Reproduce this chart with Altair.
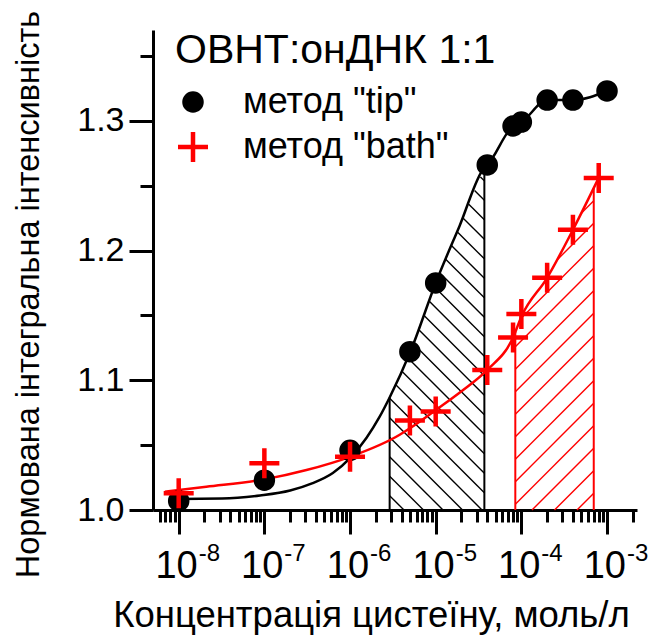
import altair as alt
import numpy as np
import pandas as pd

FONT = "Liberation Sans"

# ---- measured points ----------------------------------------------------
TIP = 'метод "tip"'
BATH = 'метод "bath"'

tip_conc = [1e-8, 1e-7, 1e-6, 5e-6, 1e-5, 4e-5, 8e-5, 1e-4, 2e-4, 4e-4, 1e-3]
tip_val = [1.007, 1.023, 1.046, 1.122, 1.175, 1.266, 1.296, 1.299, 1.316, 1.316, 1.323]

bath_conc = [1e-8, 1e-7, 1e-6, 5e-6, 1e-5, 4e-5, 8e-5, 1e-4, 2e-4, 4e-4, 8e-4]
bath_val = [1.013, 1.036, 1.041, 1.069, 1.076, 1.108, 1.133, 1.151, 1.179, 1.216, 1.256]

# ---- fitted curves ------------------------------------------------------
tip_fit_conc = [1.0e-8, 3.2e-8, 8.9e-8, 2.0e-7, 3.6e-7, 6.3e-7, 1.0e-6, 1.56e-6,
                2.21e-6, 2.9e-6, 5.1e-6, 1.0e-5, 1.9e-5, 3.7e-5, 4.0e-5, 8.0e-5,
                1.0e-4, 2.0e-4, 4.0e-4, 1.0e-3]
tip_fit_val = [1.0085, 1.0088, 1.0112, 1.0150, 1.0205, 1.0285, 1.040, 1.0557,
               1.0717, 1.0867, 1.1225, 1.175, 1.219, 1.264, 1.266, 1.296,
               1.299, 1.316, 1.316, 1.323]

bath_fit_conc = [6.9e-9, 2.1e-8, 1.0e-7, 3.1e-7, 1.0e-6, 3.8e-6, 5.0e-6, 1.0e-5,
                 2.0e-5, 4.0e-5, 8.0e-5, 1.0e-4, 2.0e-4, 4.0e-4, 8.0e-4]
bath_fit_val = [1.0141, 1.0179, 1.0236, 1.0308, 1.041, 1.058, 1.063, 1.077,
                1.0915, 1.108, 1.133, 1.149, 1.179, 1.216, 1.256]

# hatched concentration ranges under each curve
tip_band = [2.9e-6, 3.7e-5]
bath_band = [8.5e-5, 7.0e-4]

# ---- axes ---------------------------------------------------------------
x_decades = [-8, -7, -6, -5, -4, -3]
y_ticks = [1.0, 1.05, 1.1, 1.15, 1.2, 1.25, 1.3, 1.35]

W, H = 484, 480
U0, U1 = -8.30, -2.65          # log10 limits of the x axis
Y0, Y1 = 1.0, 1.37
KX = W / (U1 - U0)             # pixels per decade
KY = H / (Y1 - Y0)             # pixels per intensity unit

x_ticks = [m * 10.0 ** k for k in range(-9, -2) for m in range(1, 10)
           if 10 ** U0 <= m * 10.0 ** k <= 10 ** U1]

xscale = alt.Scale(type="log", domain=[10 ** U0, 10 ** U1], nice=False)
yscale = alt.Scale(domain=[Y0, Y1], nice=False, zero=False)

x_axis = alt.Axis(
    values=x_ticks, labels=False, grid=False,
    tickSize={"condition": {"test": "abs(log(datum.value)/LN10 - round(log(datum.value)/LN10)) < 0.01",
                            "value": 24}, "value": 12},
    title="Концентрація цистеїну, моль/л", titleX=218, titleY=105,
    titleAlign="center", titleBaseline="middle", titleFontSize=36.5,
)
y_axis = alt.Axis(
    values=y_ticks, grid=False, labelPadding=5,
    labelExpr="abs(datum.value*10 - round(datum.value*10)) < 0.01 ? format(datum.value, '.1f') : ''",
    tickSize={"condition": {"test": "abs(datum.value*10 - round(datum.value*10)) < 0.01",
                            "value": 24}, "value": 13},
    title="Нормована інтегральна інтенсивність", titleX=-125, titleY=264,
    titleAlign="center", titleBaseline="middle", titleAngle=-90, titleFontSize=32.5,
)


def hatch_segments(curve_c, curve_v, band, step, slope, phase):
    """Diagonal hatch strokes clipped to the region under a curve."""
    sx_c = (np.log10(curve_c) - U0) * KX
    sy_c = (np.asarray(curve_v) - Y0) * KY
    lo, hi = [(np.log10(b) - U0) * KX for b in band]
    xs = np.linspace(lo, hi, 6000)
    top = np.interp(xs, sx_c, sy_c)
    rows = []
    for c in np.arange(phase - 1500, 1500, step):
        ys = slope * xs + c
        inside = np.where((ys >= 0) & (ys <= top))[0]
        if inside.size < 2:
            continue
        i0, i1 = inside[0], inside[-1]
        rows.append({
            "c1": 10 ** (xs[i0] / KX + U0), "v1": ys[i0] / KY + Y0,
            "c2": 10 ** (xs[i1] / KX + U0), "v2": ys[i1] / KY + Y0,
        })
    return pd.DataFrame(rows)


def band_edges(curve_c, curve_v, band):
    u = np.log10(curve_c)
    tops = np.interp(np.log10(band), u, curve_v)
    return pd.DataFrame({"c": band, "v0": [Y0] * len(band), "v1": tops})


tip_hatch = hatch_segments(tip_fit_conc, tip_fit_val, tip_band, 19.5, -1, 15.5)
bath_hatch = hatch_segments(bath_fit_conc, bath_fit_val, bath_band, 22.5, 1, 18.5)


def hatch_layer(df, color):
    return alt.Chart(df).mark_rule(color=color, strokeWidth=1.4).encode(
        x=alt.X("c1:Q", scale=xscale, axis=x_axis),
        x2="c2:Q",
        y=alt.Y("v1:Q", scale=yscale, axis=y_axis),
        y2="v2:Q",
    )


def edge_layer(df, color):
    return alt.Chart(df).mark_rule(color=color, strokeWidth=2).encode(
        x=alt.X("c:Q", scale=xscale, axis=x_axis),
        y=alt.Y("v0:Q", scale=yscale, axis=y_axis),
        y2="v1:Q",
    )


def curve_layer(conc, val, color):
    df = pd.DataFrame({"c": conc, "v": val})
    return alt.Chart(df).mark_line(color=color, strokeWidth=2.5, interpolate="monotone").encode(
        x=alt.X("c:Q", scale=xscale, axis=x_axis),
        y=alt.Y("v:Q", scale=yscale, axis=y_axis),
    )


points = pd.DataFrame({
    "c": tip_conc + bath_conc,
    "v": tip_val + bath_val,
    "method": [TIP] * len(tip_conc) + [BATH] * len(bath_conc),
})
methods = [TIP, BATH]
legend = alt.Legend(
    title="ОВНТ:онДНК 1:1", orient="none", legendX=22, legendY=1,
    titleFont=FONT, titleFontSize=41, titleFontWeight="normal", titleColor="black",
    titlePadding=12, titleLimit=0, labelFont=FONT, labelFontSize=36, labelColor="black",
    labelLimit=0, labelOffset=32, rowPadding=3, symbolStrokeWidth=4.5, padding=0,
)
point_layer = alt.Chart(points).mark_point(opacity=1, strokeWidth=4.5).encode(
    x=alt.X("c:Q", scale=xscale, axis=x_axis),
    y=alt.Y("v:Q", scale=yscale, axis=y_axis),
    fill=alt.Fill("method:N", scale=alt.Scale(domain=methods, range=["black", "red"]), legend=legend),
    stroke=alt.Stroke("method:N", scale=alt.Scale(domain=methods, range=["black", "red"]), legend=legend),
    shape=alt.Shape("method:N", scale=alt.Scale(domain=methods, range=["circle", "M-1,0L1,0M0,-1L0,1"]), legend=legend),
    size=alt.Size("method:N", scale=alt.Scale(domain=methods, range=[290, 900]), legend=legend),
)

# decade labels 10^n drawn as base + raised exponent
decades = pd.DataFrame({"c": [10.0 ** e for e in x_decades],
                        "exp": [str(e) for e in x_decades],
                        "base": ["10"] * len(x_decades)})
base_labels = alt.Chart(decades).mark_text(
    font=FONT, fontSize=38, align="right", baseline="alphabetic", dx=19, dy=68, color="black"
).encode(x=alt.X("c:Q", scale=xscale, axis=x_axis), y=alt.datum(Y0), text="base:N")
exp_labels = alt.Chart(decades).mark_text(
    font=FONT, fontSize=24, align="left", baseline="alphabetic", dx=20, dy=51, color="black"
).encode(x=alt.X("c:Q", scale=xscale, axis=x_axis), y=alt.datum(Y0), text="exp:N")

chart = alt.layer(
    hatch_layer(tip_hatch, "black"),
    hatch_layer(bath_hatch, "red"),
    edge_layer(band_edges(tip_fit_conc, tip_fit_val, tip_band), "black"),
    edge_layer(band_edges(bath_fit_conc, bath_fit_val, bath_band), "red"),
    curve_layer(tip_fit_conc, tip_fit_val, "black"),
    curve_layer(bath_fit_conc, bath_fit_val, "red"),
    point_layer,
    base_labels,
    exp_labels,
).properties(
    width=W, height=H,
    autosize=alt.AutoSizeParams(type="none"),
    padding={"left": 153, "top": 30, "right": 12, "bottom": 133},
).configure_view(stroke=None).configure_axis(
    domainColor="black", domainWidth=3, tickColor="black", tickWidth=3,
    labelFont=FONT, labelFontSize=34, labelColor="black",
    titleFont=FONT, titleFontSize=34, titleFontWeight="normal", titleColor="black",
)

chart.save("out.html", embed_options={"renderer": "svg", "actions": False})
